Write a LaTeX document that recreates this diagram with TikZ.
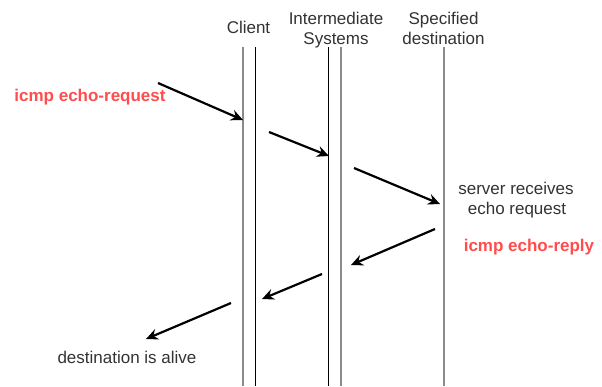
\documentclass[tikz,border=0pt]{standalone}
\usepackage{fontspec}
\setmainfont{Liberation Sans}
\usetikzlibrary{arrows.meta}
\definecolor{txtgray}{HTML}{333333}
\definecolor{icmpred}{HTML}{FF4D4D}
\definecolor{lifegray}{HTML}{8A8A8A}
\begin{document}
\begin{tikzpicture}[x=1pt,y=-1pt,
  lbl/.style={font=\fontsize{17}{19}\selectfont, text=txtgray, inner sep=0pt, anchor=base},
  redlbl/.style={font=\fontsize{17}{19}\selectfont\bfseries, text=icmpred, inner sep=0pt, anchor=base},
  lifeg/.style={draw=lifegray, line width=2pt},
  lifeb/.style={draw=black, line width=1pt},
  msg/.style={draw=black, line width=2.2pt, -{Stealth[length=12pt,width=11pt,inset=4pt]}}]
\path[use as bounding box, fill=white] (0,0) rectangle (602,386);

% headers
\node[lbl] (client) at (248.5,33.5) {Client};
\node[lbl] (inter1) at (336,24.5) {Intermediate};
\node[lbl] (inter2) at (336,44) {Systems};
\node[lbl] (dest1) at (443.5,24.5) {Specified};
\node[lbl] (dest2) at (443.5,44) {destination};

% lifelines
\coordinate (cAt) at (243,47);  \coordinate (cAb) at (243,386);
\coordinate (cBt) at (255,47);  \coordinate (cBb) at (255,386);
\coordinate (iAt) at (328.5,47); \coordinate (iAb) at (328.5,386);
\coordinate (iBt) at (341,47);  \coordinate (iBb) at (341,386);
\coordinate (dt) at (443.5,47);  \coordinate (db) at (443.5,386);
\draw[lifeg] (cAt) -- (cAb);
\draw[lifeb] (cBt) -- (cBb);
\draw[lifeb] (iAt) -- (iAb);
\draw[lifeg] (iBt) -- (iBb);
\draw[lifeg] (dt) -- (db);

% labels
\node[redlbl] (req) at (90,101.5) {icmp echo-request};
\node[lbl] (srv1) at (516,194) {server receives};
\node[lbl] (srv2) at (517,214) {echo request};
\node[redlbl] (rep) at (529,251) {icmp echo-reply};
\node[lbl] (alive) at (127,363) {destination is alive};

% message arrows
\coordinate (a1s) at (158,83);  \coordinate (a1e) at (243,120);
\coordinate (a2s) at (269,132); \coordinate (a2e) at (329,156);
\coordinate (a3s) at (354,168); \coordinate (a3e) at (440,204);
\coordinate (a4s) at (435,229); \coordinate (a4e) at (351,265);
\coordinate (a5s) at (322,274); \coordinate (a5e) at (262,299);
\coordinate (a6s) at (231,303); \coordinate (a6e) at (146,339);
\draw[msg] (a1s) -- (a1e);
\draw[msg] (a2s) -- (a2e);
\draw[msg] (a3s) -- (a3e);
\draw[msg] (a4s) -- (a4e);
\draw[msg] (a5s) -- (a5e);
\draw[msg] (a6s) -- (a6e);
\end{tikzpicture}
\end{document}
